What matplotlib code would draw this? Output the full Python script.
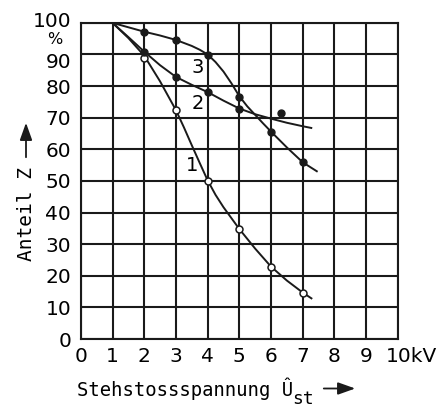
import numpy as np
import matplotlib.pyplot as plt
import matplotlib.transforms as mtransforms
from matplotlib.patches import FancyArrowPatch

# Messpunkte
x_pts = [2, 3, 4, 5, 6, 7]
kurve1_pts = [89, 72.4, 50, 34.8, 22.9, 14.7]        # offene Kreise
kurve2_x = [2, 3, 4, 5, 6.3]
kurve2_pts = [90.9, 82.8, 78.2, 72.7, 71.4]
kurve3_pts = [97, 94.6, 89.9, 76.5, 65.6, 55.9]

# Ausgleichskurven
k1_x = [1, 1.5, 2, 2.5, 3, 3.25, 3.5, 3.75, 4, 4.25, 4.5, 5, 5.5, 6, 6.5, 7, 7.3]
k1_y = [100, 95.2, 89.6, 81.5, 72.4, 67.0, 61.3, 55.7, 50.2, 45.6, 41.7, 34.8, 28.6, 22.9, 18.5, 14.7, 12.7]
k2_x = [1, 1.5, 2, 2.5, 3, 3.5, 4, 4.5, 5, 5.5, 6, 6.5, 7, 7.3]
k2_y = [100, 95.5, 90.9, 86.6, 82.9, 80.4, 78.1, 75.4, 72.9, 71.1, 69.7, 68.4, 67.3, 66.7]
k3_x = [1, 1.5, 2, 2.5, 3, 3.5, 3.75, 4, 4.25, 4.5, 4.75, 5, 5.25, 5.5, 5.75, 6, 6.5, 7, 7.47]
k3_y = [100, 98.6, 97.2, 96.0, 94.6, 92.7, 91.5, 90.0, 87.6, 84.6, 80.9, 76.8, 73.6, 70.9, 68.2, 65.6, 60.6, 55.9, 52.9]

xticks = list(range(0, 11))
xticklabels = [str(i) for i in range(10)] + ['10kV']
yticks = list(range(0, 101, 10))

ink = '#1a1a1a'
mono = ['DejaVu Sans Mono']
tickfont = dict(family='DejaVu Sans', fontsize=14.5)

fig = plt.figure(figsize=(4.44, 4.08), dpi=100)
ax = fig.add_axes([0.182, 0.169, 0.714, 0.775])

for kx, ky in [(k1_x, k1_y), (k2_x, k2_y), (k3_x, k3_y)]:
    ax.plot(kx, ky, color=ink, lw=1.4, solid_capstyle='butt')

ax.plot(x_pts, kurve1_pts, 'o', ms=5, mfc='white', mec=ink, mew=1.1)
ax.plot(kurve2_x, kurve2_pts, 'o', ms=5, color=ink)
ax.plot(x_pts, kurve3_pts, 'o', ms=5, color=ink)

ax.text(3.5, 55, '1', ha='center', va='center', family='DejaVu Sans', fontsize=14)
ax.text(3.7, 74.6, '2', ha='center', va='center', family='DejaVu Sans', fontsize=14)
ax.text(3.7, 86, '3', ha='center', va='center', family='DejaVu Sans', fontsize=14)

ax.set_xlim(0, 10)
ax.set_ylim(0, 100)
ax.set_xticks(xticks)
ax.set_xticklabels(xticklabels, **tickfont)
ax.set_yticks(yticks)
ax.set_yticklabels([str(v) for v in yticks], **tickfont)
ax.tick_params(axis='y', length=0, pad=7)
ax.tick_params(axis='x', length=0, pad=6)

# "10kV": die "10" steht auf dem Strich
lab = ax.get_xticklabels()[-1]
lab.set_transform(lab.get_transform() + mtransforms.ScaledTranslation(10 / 72, 0, fig.dpi_scale_trans))
# Platz fuer das "%" zwischen 100 und 90
ylabs = ax.get_yticklabels()
ylabs[-1].set_transform(ylabs[-1].get_transform() + mtransforms.ScaledTranslation(0, 2.5 / 72, fig.dpi_scale_trans))
ylabs[-2].set_transform(ylabs[-2].get_transform() + mtransforms.ScaledTranslation(0, -4 / 72, fig.dpi_scale_trans))

ax.grid(True, color=ink, lw=1.5)
for s in ax.spines.values():
    s.set_color(ink)
    s.set_linewidth(1.5)
ax.set_axisbelow(True)

fig.text(55 / 444, 1 - 40 / 408, '%', fontsize=11.5, family='DejaVu Sans',
         ha='center', va='center')

# y-Beschriftung mit Pfeil
fig.text(26 / 444, 1 - 214 / 408, 'Anteil Z', fontsize=14, family=mono, rotation=90,
         ha='center', va='center')
fig.add_artist(FancyArrowPatch(
    (26 / 444, 1 - 160 / 408), (26 / 444, 1 - 120 / 408), transform=fig.transFigure,
    arrowstyle='-|>,head_length=0.7,head_width=0.25', mutation_scale=15, color=ink, lw=1.3))

# x-Beschriftung mit Index und Pfeil
fig.text(77 / 444, 1 - 396.5 / 408, 'Stehstossspannung Û', fontsize=13.6, family=mono,
         ha='left', va='baseline')
fig.text(292 / 444, 1 - 404 / 408, 'st', fontsize=13, family=mono, ha='left', va='baseline')
fig.add_artist(FancyArrowPatch(
    (321 / 444, 1 - 388.5 / 408), (358 / 444, 1 - 388.5 / 408), transform=fig.transFigure,
    arrowstyle='-|>,head_length=0.7,head_width=0.25', mutation_scale=15, color=ink, lw=1.3))

fig.savefig('out.png', dpi=100)
